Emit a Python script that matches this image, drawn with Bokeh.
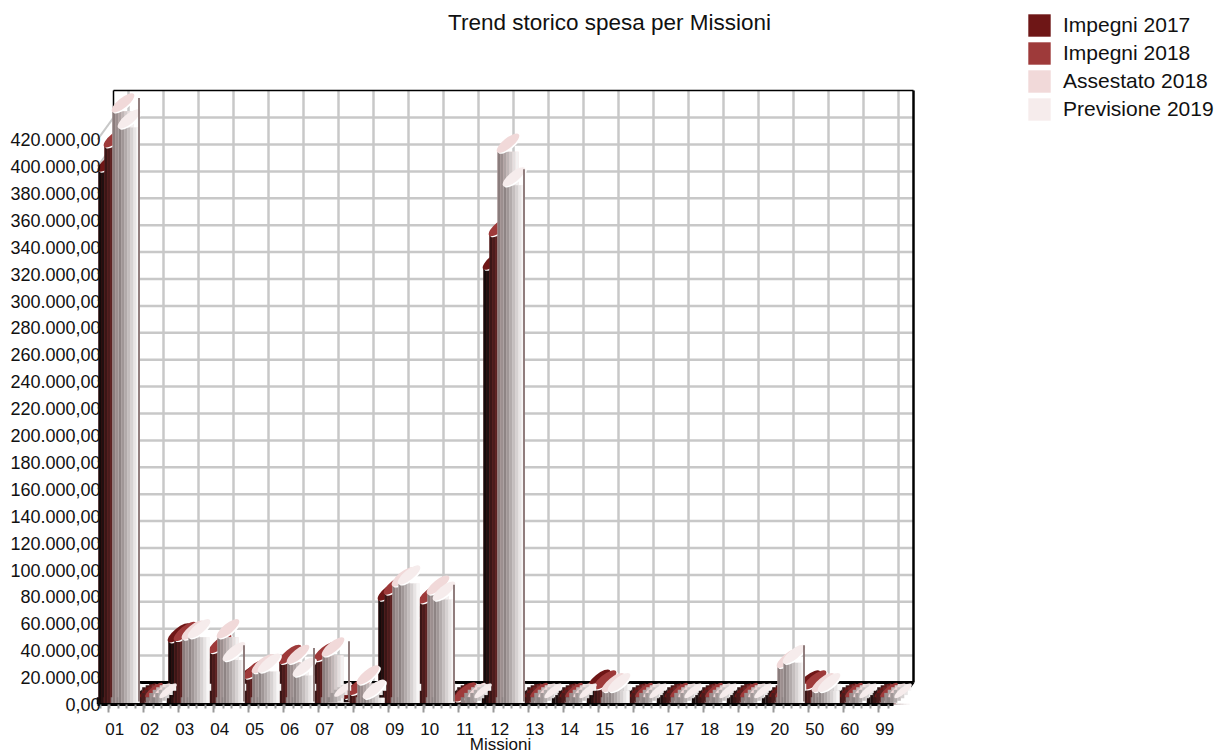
import math
from bokeh.plotting import figure
from bokeh.models import Range1d, LinearAxis, FixedTicker, Legend, LegendItem, Label
from bokeh.embed import file_html
from bokeh.resources import INLINE

categories = ["01","02","03","04","05","06","07","08","09","10","11","12","13","14","15","16","17","18","19","20","50","60","99"]
impegni_2017 =   [397,0.5,47,26,16.4,14,3,5,78,65,1,324,0.5,0.5,12.6,0.5,0.5,0.5,0.5,1,12,0.5,0.5]
impegni_2018 =   [415,1,48,39,20,31,33,8,82.5,76,3,349,1,1,12,1,1,1,1,1,12,1,1]
assestato_2018 = [441,0.5,49,50,24,31,36.5,15.6,88.5,82.5,1,411,0.5,0.5,10,0.5,0.5,0.5,0.5,28,10,0.5,0.5]
previsione_2019 =[429,0.5,50,33,24.5,21.5,1.5,5,90,78,0.5,386,0.5,0.5,10,0.5,0.5,0.5,0.5,31,10,0.5,0.5]
back_edge = {0:451, 3:44, 5:42, 6:47, 9:89, 11:398, 19:44}
series_names = ["Impegni 2017","Impegni 2018","Assestato 2018","Previsione 2019"]
series_values = [impegni_2017, impegni_2018, assestato_2018, previsione_2019]
series_colors = ["#6e1616","#9e3a3a","#f1d9d9","#f6ecec"]
y_ticks = list(range(0, 421, 20))
y_tick_labels = {v*1_000_000: (f"{v}.000,00" if v else "0,00") for v in y_ticks}

ramps = [
    ["#150a0a","#201010","#2c1414","#3a1818","#451c1c","#4f2020","#5a2525"],
    ["#3a1616","#4a1c1c","#5a2222","#6a2a2a","#7a3a3a","#8a4c4c","#9a6060"],
    ["#8a7c7c","#9c8f8f","#aea3a3","#c0b7b7","#d2cbcb","#e4dfdf","#f3f1f1"],
    ["#8e8484","#a09797","#b2abab","#c4bebe","#d6d2d2","#e8e5e5","#f7f6f6"],
]

PX_X = 35.0                # px per category
M_PX = 20/26.9             # million per px
UNIT = 1_000_000
W, H = 1226, 754
X0, Y0 = 97, 704           # where the front axes cross

def X(px): return px/PX_X
def Y(px): return px*M_PX*UNIT

FONT = "Liberation Sans"
p = figure(width=W, height=H, output_backend="svg", toolbar_location=None,
           x_range=Range1d(X(-X0), X(W-X0)), y_range=Range1d(Y(Y0-H), Y(Y0)),
           min_border=0, x_axis_type=None, y_axis_type=None, outline_line_color=None)
p.grid.visible = False

GRID = "#c8c8c8"
DX, DY = 16, 22
wall_top = 614
xs0 = [X(31+PX_X*k) for k in range(0, 23)]
p.segment(xs0, [Y(DY)]*23, xs0, [Y(wall_top)]*23, line_color=GRID, line_width=2.5)
ks = [v*UNIT for v in y_ticks[1:]]
p.segment([X(DX)]*len(ks), [k+Y(DY) for k in ks], [X(816)]*len(ks), [k+Y(DY) for k in ks], line_color=GRID, line_width=2.5)
p.segment([0]*len(ks), ks, [X(DX)]*len(ks), [k+Y(DY) for k in ks], line_color=GRID, line_width=2)
p.segment([X(DX), X(DX)], [Y(DY), Y(wall_top)], [X(DX), X(816)], [Y(wall_top), Y(wall_top)], line_color="black", line_width=1.5)
p.segment([X(816)], [Y(wall_top)], [X(816)], [Y(DY)], line_color="black", line_width=2.5)
p.segment([X(DX)], [Y(DY)], [X(816)], [Y(DY)], line_color="black", line_width=3)
p.segment([X(816)], [Y(DY)], [X(811)], [Y(DY-7)], line_color="black", line_width=2)

lefts = [1, 7, 15, 21]
BAR_W = 21
N_STRIP = 7
ANG = 0.68
A_BASE, B_BASE = 15.0, 5.5

def chords(a, b, th, n_strips):
    ca, sa = math.cos(th), math.sin(th)
    A = ca*ca/a/a + sa*sa/b/b
    B = 2*sa*ca*(1/a/a - 1/b/b)
    C = sa*sa/a/a + ca*ca/b/b
    ext = math.sqrt(a*a*ca*ca + b*b*sa*sa)
    out = []
    for j in range(n_strips):
        x = -ext + (j+0.5)*2*ext/n_strips
        disc = max(0.0, (B*x)**2 - 4*C*(A*x*x - 1))
        out.append((x, (-B*x - math.sqrt(disc))/(2*C), (-B*x + math.sqrt(disc))/(2*C), 2*ext/n_strips))
    return out

base_chords = chords(A_BASE, B_BASE, ANG, N_STRIP)

items = []
n = len(categories)
for s, (name, vals, col, left, ramp) in enumerate(zip(series_names, series_values, series_colors, lefts, ramps)):
    tops = [v*UNIT for v in vals]
    cx = [i + X(left + BAR_W/2) for i in range(n)]
    for j, (dx, y1, y2, w) in enumerate(base_chords):
        p.vbar(x=[c + X(dx) for c in cx], bottom=Y(10.5 + y1), top=Y(10.5 + y2), width=X(w)+0.004,
               fill_color=ramp[j], line_color=None)
    base = p.vbar(x=cx, bottom=0, top=tops, width=X(BAR_W), fill_color=col, line_color=None)
    items.append(LegendItem(label=name, renderers=[base]))
    for j in range(N_STRIP):
        sx = [i + X(left + (j+0.5)*BAR_W/N_STRIP) for i in range(n)]
        p.vbar(x=sx, bottom=0, top=tops, width=X(BAR_W/N_STRIP)+0.004,
               fill_color=ramp[j], line_color=None)
    tall = [k for k, v in enumerate(vals) if v >= 3]
    low = [k for k, v in enumerate(vals) if v < 3]
    p.ellipse(x=[cx[k]+X(1.5) for k in tall], y=[tops[k]+Y(7.5) for k in tall], width=28, height=10, angle=ANG,
              width_units="screen", height_units="screen", fill_color="white", line_color=None)
    p.ellipse(x=[cx[k] for k in tall], y=[tops[k]+Y(8.5) for k in tall], width=28, height=10, angle=ANG,
              width_units="screen", height_units="screen", fill_color=col, line_color=None)
    p.ellipse(x=[cx[k]+X(4) for k in low], y=[tops[k]+Y(13) for k in low], width=22, height=6.5, angle=ANG,
              width_units="screen", height_units="screen", fill_color=col, line_color=None)

idx = list(back_edge)
p.vbar(x=[i + X(41.5) for i in idx], bottom=[Y(3)]*len(idx), top=[back_edge[i]*UNIT for i in idx],
       width=X(1.8), fill_color="#857070", line_color=None)

tick_axis = LinearAxis(fixed_location=0, axis_line_color="black", axis_line_width=3,
                       major_label_text_color=None, major_label_text_font_size="1px", major_label_standoff=0,
                       major_tick_line_color="#9a9a9a", major_tick_line_width=2, major_tick_in=0, major_tick_out=8,
                       minor_tick_line_color="#9a9a9a", minor_tick_line_width=2, minor_tick_in=0, minor_tick_out=4,
                       bounds=(0, 796/PX_X))
tick_axis.ticker = FixedTicker(ticks=[i + X(11) for i in range(n)],
                               minor_ticks=[X(3) + 0.25*k for k in range(0, 91)])
tick_axis.major_label_overrides = {i + X(11): "" for i in range(n)}
p.add_layout(tick_axis, "below")

lab_axis = LinearAxis(fixed_location=0, axis_line_color=None, major_tick_line_color=None, minor_tick_line_color=None,
                      major_tick_out=0, major_tick_in=0, minor_tick_out=0, minor_tick_in=0,
                      major_label_text_font=FONT, major_label_text_font_size="17px", major_label_text_color="#111111",
                      major_label_standoff=18)
centers = [i + X(17.3) for i in range(n)]
lab_axis.ticker = FixedTicker(ticks=centers, minor_ticks=[])
lab_axis.major_label_overrides = {c: t for c, t in zip(centers, categories)}
p.add_layout(lab_axis, "below")

p.add_layout(Label(x=X(500-X0), y=-Y(39.5), text="Missioni", text_align="center", text_baseline="middle",
                   text_font=FONT, text_font_size="17px", text_color="#111111"))

y_axis = LinearAxis(fixed_location=0, axis_line_color=None, major_tick_line_color=None, minor_tick_line_color=None,
                    major_tick_out=0, major_tick_in=0, minor_tick_out=0, minor_tick_in=0,
                    major_label_text_font=FONT, major_label_text_font_size="18px", major_label_text_color="#111111",
                    major_label_standoff=-3)
y_axis.ticker = FixedTicker(ticks=[v*UNIT for v in y_ticks], minor_ticks=[])
y_axis.major_label_overrides = y_tick_labels
p.add_layout(y_axis, "left")

p.add_layout(Label(x=X(609-X0), y=Y(Y0-22), text="Trend storico spesa per Missioni", text_align="center", text_baseline="middle",
                   text_font=FONT, text_font_size="22.5px", text_color="#111111"))

legend = Legend(items=items, location=(1025, 631), orientation="vertical", margin=0, padding=0, spacing=0,
                glyph_width=28, glyph_height=28, label_height=23, label_standoff=10,
                label_text_font=FONT, label_text_font_size="21px", label_text_color="#111111",
                border_line_color=None, background_fill_color=None)
p.add_layout(legend, "center")

open("out.html", "w").write(file_html(p, INLINE))
